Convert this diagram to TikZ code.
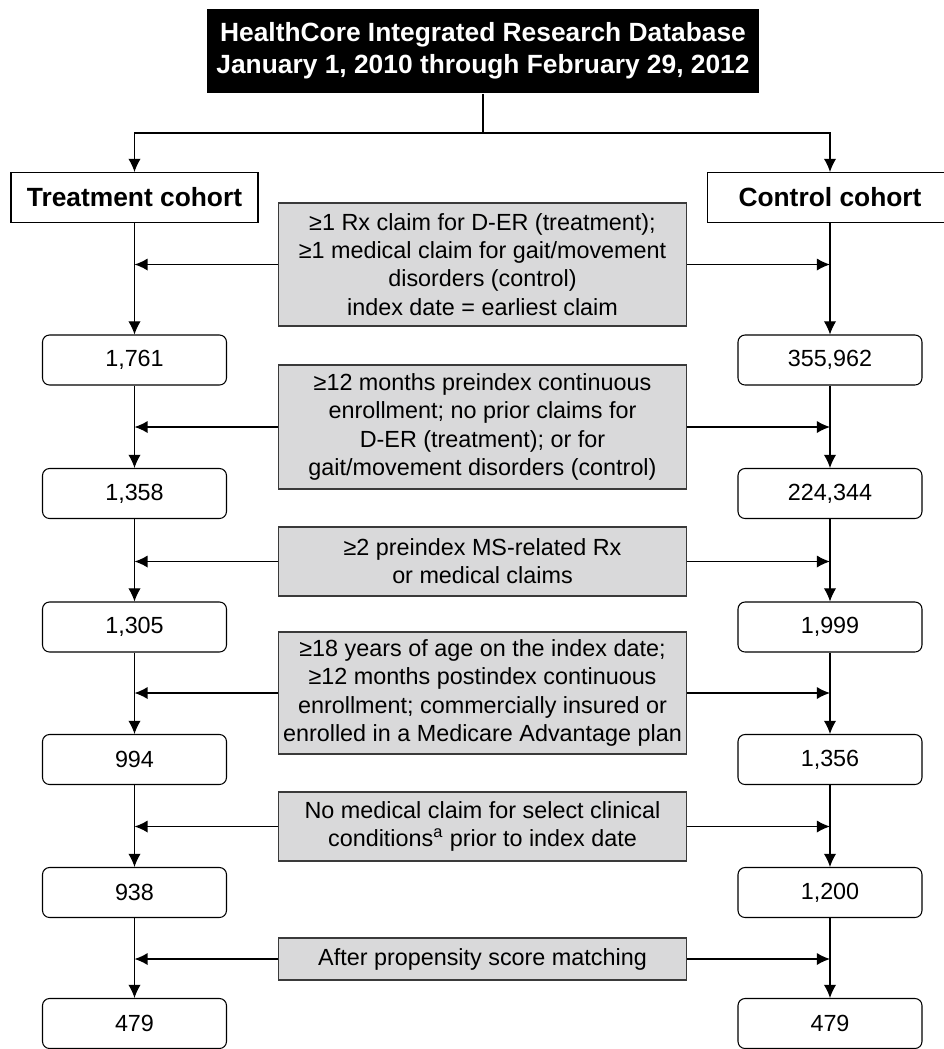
\documentclass[tikz,border=0pt]{standalone}
\usepackage{fontspec}
\setmainfont{Liberation Sans}
\usetikzlibrary{arrows.meta}
\definecolor{critgray}{HTML}{D9D9DA}
\definecolor{critedge}{HTML}{3A3A3A}

\begin{document}
\begin{tikzpicture}[x=0.02cm, y=-0.02cm,
  titlebox/.style={fill=black, text=white, align=center, inner sep=0pt,
    font=\fontsize{15}{18}\selectfont\bfseries, minimum width=11.04cm, minimum height=1.7cm},
  cohortbox/.style={draw, line width=0.6pt, inner sep=0pt, minimum height=1cm,
    font=\fontsize{15}{18}\selectfont\bfseries},
  countbox/.style={draw, rounded corners=4pt, line width=0.6pt, inner sep=0pt,
    minimum width=3.68cm, minimum height=1cm, font=\fontsize{13.3}{16}\selectfont},
  critbox/.style={draw=critedge, fill=critgray, line width=0.6pt, align=center, inner sep=0pt,
    minimum width=8.18cm, font=\fontsize{13.3}{16}\selectfont},
  flow/.style={line width=0.6pt, -{Latex[length=7.5pt,width=7pt]}},
  sidearrow/.style={line width=0.8pt, -{Latex[length=7.5pt,width=7pt]}}]
\useasboundingbox (0,0) rectangle (944,1049);

  % Source database
  \node[titlebox] (db) at (483,51) {HealthCore Integrated Research Database\\
    January 1, 2010 through February 29, 2012};
  \coordinate (split) at (483,133);

  % Cohorts
  \node[cohortbox, minimum width=4.94cm] (treat) at (134.5,197.5) {Treatment cohort};
  \node[cohortbox, minimum width=4.9cm] (ctrl) at (830,197.5) {Control cohort};

  % Left (treatment) counts
  \node[countbox] (t1) at (134.5,360)    {1,761};
  \node[countbox] (t2) at (134.5,493.5)  {1,358};
  \node[countbox] (t3) at (134.5,627)    {1,305};
  \node[countbox] (t4) at (134.5,759.5)  {994};
  \node[countbox] (t5) at (134.5,892.5)  {938};
  \node[countbox] (t6) at (134.5,1023.5) {479};

  % Right (control) counts
  \node[countbox] (c1) at (830,360)    {355,962};
  \node[countbox] (c2) at (830,493.5)  {224,344};
  \node[countbox] (c3) at (830,627)    {1,999};
  \node[countbox] (c4) at (830,759.5)  {1,356};
  \node[countbox] (c5) at (830,892.5)  {1,200};
  \node[countbox] (c6) at (830,1023.5) {479};

  % Selection criteria
  \node[critbox, minimum height=2.46cm] (k1) at (482.5,264.5)
    {≥1 Rx claim for D-ER (treatment);\\ ≥1 medical claim for gait/movement\\
     disorders (control)\\ index date = earliest claim};
  \node[critbox, minimum height=2.48cm] (k2) at (482.5,427)
    {≥12 months preindex continuous\\ enrollment; no prior claims for\\
     D-ER (treatment); or for\\ gait/movement disorders (control)};
  \node[critbox, minimum height=1.38cm] (k3) at (482.5,561.5)
    {≥2 preindex MS-related Rx\\ or medical claims};
  \node[critbox, minimum height=2.44cm] (k4) at (482.5,693)
    {≥18 years of age on the index date;\\ ≥12 months postindex continuous\\
     enrollment; commercially insured or\\ enrolled in a Medicare Advantage plan};
  \node[critbox, minimum height=1.38cm] (k5) at (482.5,826.5)
    {No medical claim for select clinical\\ conditions\textsuperscript{a} prior to index date};
  \node[critbox, minimum height=0.84cm] (k6) at (482.5,959)
    {After propensity score matching};

  \draw[line width=0.6pt] (db.south) -- (split);
  \draw[flow] (split) -| (treat.north);
  \draw[flow] (split) -| (ctrl.north);

  \foreach \a/\b in {treat/t1, t1/t2, t2/t3, t3/t4, t4/t5, t5/t6,
                     ctrl/c1, c1/c2, c2/c3, c3/c4, c4/c5, c5/c6}
    \draw[flow] (\a) -- (\b);

  \foreach \k in {k1,k2,k3,k4,k5,k6} {
    \draw[sidearrow] (\k.west) -- (\k.west -| treat);
    \draw[sidearrow] (\k.east) -- (\k.east -| ctrl);
  }
\end{tikzpicture}
\end{document}
